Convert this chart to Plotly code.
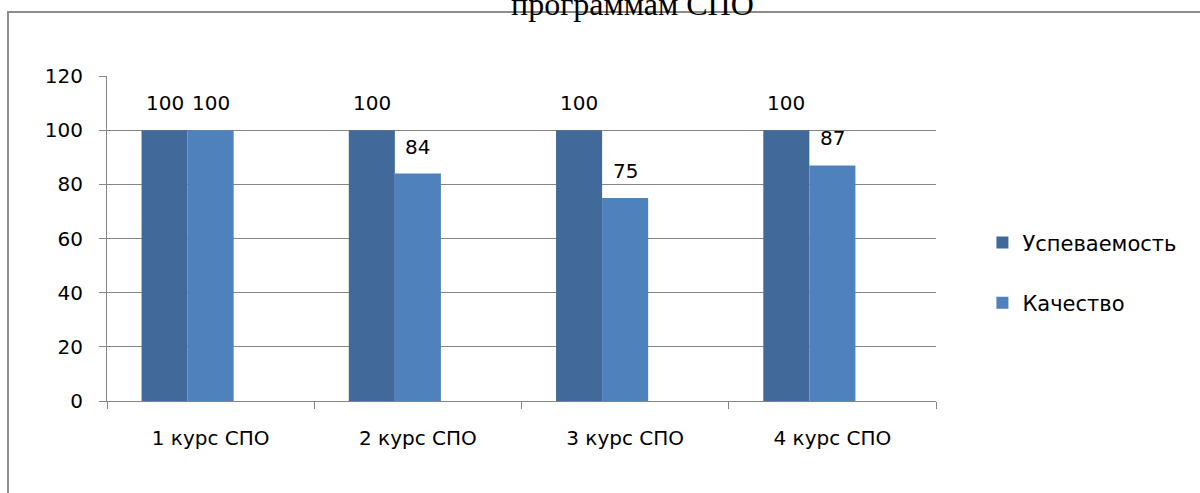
import plotly.graph_objects as go

# data
categories = ["1 курс СПО", "2 курс СПО", "3 курс СПО", "4 курс СПО"]
uspevaemost = [100, 100, 100, 100]
kachestvo = [100, 84, 75, 87]
title_text = "программам СПО"

font_main = "DejaVu Sans"
grid_col = "#868686"

fig = go.Figure()

# Excel-like clustered layout: 3 slots per category, third one empty
bw = 0.2222
series = [
    ("Успеваемость", uspevaemost, "#416A9B", -0.3333, "a"),
    ("Качество", kachestvo, "#4F81BD", -0.1111, "b"),
]
for name, vals, col, off, grp in series:
    fig.add_trace(go.Bar(
        x=list(range(len(categories))), y=vals, name=name,
        marker=dict(color=col, line=dict(width=0)),
        width=bw, offset=off, legendgroup=grp,
    ))
    # data labels above the bars
    for i, v in enumerate(vals):
        fig.add_annotation(x=i + off + bw / 2, y=v, xref="x", yref="y",
                           text=str(v), showarrow=False, yanchor="bottom", yshift=13,
                           font=dict(family=font_main, size=20, color="black"))

fig.update_layout(
    template="none",
    width=1200, height=493,
    margin=dict(l=107, r=264, t=76, b=92),
    paper_bgcolor="white", plot_bgcolor="white",
    barmode="group",
    font=dict(family=font_main, size=20, color="black"),
    title=dict(text=title_text, font=dict(family="Liberation Serif", size=32, color="black"),
               x=0.527, xanchor="center", xref="container",
               y=0.992, yanchor="middle", yref="container"),
    showlegend=True,
    legend=dict(x=1.056, xanchor="left", y=0.55, yanchor="top",
                font=dict(family=font_main, size=21),
                traceorder="grouped", tracegroupgap=30,
                bgcolor="rgba(0,0,0,0)", itemwidth=30),
)

fig.update_yaxes(range=[0, 120], dtick=20, showgrid=True, gridcolor=grid_col, gridwidth=1,
                 showline=True, linecolor=grid_col, linewidth=1,
                 ticks="outside", ticklen=7, tickcolor=grid_col,
                 ticklabelstandoff=12, zeroline=False)
fig.update_xaxes(range=[-0.5, 3.5], tickvals=list(range(len(categories))), ticktext=categories,
                 showline=True, linecolor=grid_col, linewidth=1,
                 ticks="", ticklabelstandoff=19, showgrid=False, zeroline=False)

# category boundary ticks on the x axis
fig.update_layout(xaxis2=dict(overlaying="x", range=[-0.5, 3.5], tickvals=[-0.5, 0.5, 1.5, 2.5, 3.5],
                              showticklabels=False, ticks="outside", ticklen=7, tickcolor=grid_col,
                              showgrid=False, zeroline=False, side="bottom", anchor="y", showline=False))
fig.add_trace(go.Scatter(x=[], y=[], xaxis="x2", showlegend=False))

# outer chart border (cropped on right and bottom)
fig.add_shape(type="rect", xref="paper", yref="paper",
              x0=(8 - 107) / 829, x1=(1215 - 107) / 829,
              y0=(401 - 510) / 325, y1=(401 - 12) / 325,
              line=dict(color="#8C8C8C", width=2), fillcolor="rgba(0,0,0,0)", layer="below")

fig.write_html("out.html", config={"displayModeBar": False},
               post_script="document.body.style.margin='0';")
